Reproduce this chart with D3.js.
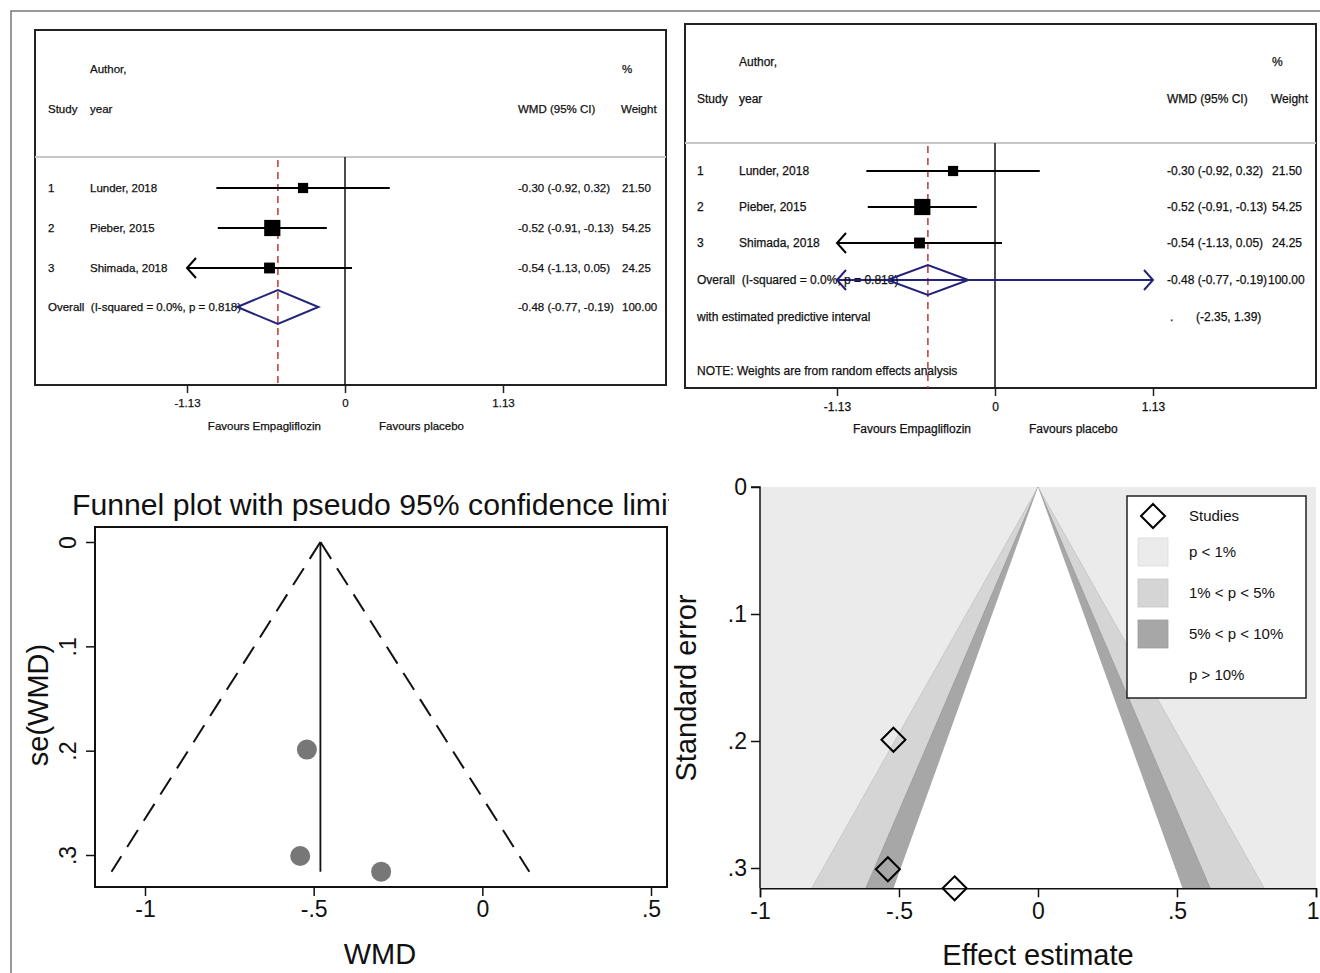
<!DOCTYPE html>
<html>
<head>
<meta charset="utf-8">
<script src="https://cdn.jsdelivr.net/npm/d3@7"></script>
<style>
  body { margin: 0; background: #fff; }
  text { font-family: "Liberation Sans", Arial, sans-serif; fill: #111; }
  .ft { stroke: #111; stroke-width: 0.25px; white-space: pre; }
</style>
</head>
<body>
<script>
// ---- data ----
var studyIds = ["1", "2", "3"];
var studyNames = ["Lunder, 2018", "Pieber, 2015", "Shimada, 2018"];
var wmd = [-0.30, -0.52, -0.54];
var ciLow = [-0.92, -0.91, -1.13];
var ciHigh = [0.32, -0.13, 0.05];
var weights = ["21.50", "54.25", "24.25"];
var ciLabels = ["-0.30 (-0.92, 0.32)", "-0.52 (-0.91, -0.13)", "-0.54 (-1.13, 0.05)"];
var overallEst = -0.48;
var overallCi = [-0.77, -0.19];
var overallLabel = "-0.48 (-0.77, -0.19)";
var predInterval = [-2.35, 1.39];
var forestTicks = [-1.13, 0, 1.13];
var se = [0.316, 0.199, 0.301];
var funnelXTicks = [-1, -0.5, 0, 0.5];
var funnelYTicks = [0, 0.1, 0.2, 0.3];
var contourXTicks = [-1, -0.5, 0, 0.5, 1];
var contourYTicks = [0, 0.1, 0.2, 0.3];
var contourZ = [2.576, 1.96, 1.645];
var contourColors = ["#d5d5d5", "#a7a7a7", "#ffffff"];
var legendLabels = ["p < 1%", "1% < p < 5%", "5% < p < 10%", "p > 10%"];
var legendColors = ["#ebebeb", "#d5d5d5", "#a7a7a7", "none"];

var W = 1320, H = 973;
var svg = d3.select("body").append("svg").attr("width", W).attr("height", H);

// outer figure border (only top and left visible)
svg.append("path").attr("d", "M11,973 L11,11 L1320,11")
  .attr("fill", "none").attr("stroke", "#777").attr("stroke-width", 1.5);

function stataFmt(d) {
  if (d === 0) return "0";
  return String(d).replace("0.", ".");
}

function arrowHead(g, x, y, dir, color) {
  // dir -1 pointing left, +1 pointing right
  g.append("path")
    .attr("d", "M" + (x - dir * 9) + "," + (y - 10) + " L" + x + "," + y + " L" + (x - dir * 9) + "," + (y + 10))
    .attr("fill", "none").attr("stroke", color).attr("stroke-width", 2);
}

// ---- forest plot ----
function forest(opt) {
  var g = svg.append("g");
  var x = d3.scaleLinear().domain([-1.13, 1.13]).range([opt.zero - 158, opt.zero + 158]);
  var fs = opt.fs;
  function txt(s, xx, yy, anchor) {
    return g.append("text").attr("class", "ft").attr("x", xx).attr("y", yy).attr("dy", "0.35em")
      .attr("text-anchor", anchor || "start").style("font-size", fs + "px").text(s);
  }

  g.append("rect").attr("x", opt.x0).attr("y", opt.y0)
    .attr("width", opt.x1 - opt.x0).attr("height", opt.y1 - opt.y0)
    .attr("fill", "none").attr("stroke", "#222").attr("stroke-width", 2);
  g.append("line").attr("x1", opt.x0).attr("x2", opt.x1)
    .attr("y1", opt.sep).attr("y2", opt.sep)
    .attr("stroke", "#c8c8c8").attr("stroke-width", 2);

  // header
  txt("Author,", opt.colName, opt.hy1);
  txt("%", opt.colW, opt.hy1);
  txt("Study", opt.colId, opt.hy2);
  txt("year", opt.colName, opt.hy2);
  txt("WMD (95% CI)", opt.colCi, opt.hy2);
  txt("Weight", opt.colW - 1, opt.hy2);

  // zero line and overall dashed line
  g.append("line").attr("x1", x(0)).attr("x2", x(0))
    .attr("y1", opt.sep).attr("y2", opt.y1).attr("stroke", "#111").attr("stroke-width", 1.5);
  g.append("line").attr("x1", x(overallEst)).attr("x2", x(overallEst))
    .attr("y1", opt.sep + 3).attr("y2", opt.y1)
    .attr("stroke", "#b83a3a").attr("stroke-width", 1.5).attr("stroke-dasharray", "7,5");

  studyNames.forEach(function(n, i) {
    var y = opt.rows[i];
    var lo = Math.max(ciLow[i], -1.13);
    g.append("line").attr("x1", x(lo)).attr("x2", x(ciHigh[i]))
      .attr("y1", y).attr("y2", y).attr("stroke", "#000").attr("stroke-width", 2);
    if (ciLow[i] <= -1.13) arrowHead(g, x(-1.13), y, -1, "#000");
    var s = 2.2 * Math.sqrt(+weights[i]);
    g.append("rect").attr("x", x(wmd[i]) - s / 2).attr("y", y - s / 2)
      .attr("width", s).attr("height", s).attr("fill", "#000");
    txt(studyIds[i], opt.colId, y);
    txt(n, opt.colName, y);
    txt(ciLabels[i], opt.colCi, y);
    txt(weights[i], opt.colW, y);
  });

  var oy = opt.rows[3];
  if (opt.pred) {
    var plo = Math.max(predInterval[0], -1.13), phi = Math.min(predInterval[1], 1.13);
    g.append("line").attr("x1", x(plo)).attr("x2", x(phi)).attr("y1", oy).attr("y2", oy)
      .attr("stroke", "#23237a").attr("stroke-width", 2);
    arrowHead(g, x(plo), oy, -1, "#23237a");
    arrowHead(g, x(phi), oy, 1, "#23237a");
  }
  txt("Overall  (I-squared = 0.0%, p = 0.818)", opt.colId, oy);
  g.append("path")
    .attr("d", "M" + x(overallCi[0]) + "," + oy + " L" + x(overallEst) + "," + (oy - opt.dh) +
      " L" + x(overallCi[1]) + "," + oy + " L" + x(overallEst) + "," + (oy + opt.dh) + "Z")
    .attr("fill", "none").attr("stroke", "#23237a").attr("stroke-width", 2);
  txt(overallLabel, opt.colCi, oy);
  txt("100.00", opt.colW + (opt.pred ? -4 : 0), oy);

  if (opt.pred) {
    txt("with estimated predictive interval", opt.colId, opt.rows[4]);
    txt(".", opt.colCi + 3, opt.rows[4]);
    txt("(" + predInterval[0].toFixed(2) + ", " + predInterval[1].toFixed(2) + ")", opt.colCi + 29, opt.rows[4]);
    txt("NOTE: Weights are from random effects analysis", opt.colId, opt.rows[5]);
  }

  // axis
  var ax = g.append("g").attr("transform", "translate(0," + opt.y1 + ")")
    .call(d3.axisBottom(x).tickValues(forestTicks).tickSize(8).tickPadding(6)
      .tickFormat(function(d) { return d === 0 ? "0" : d.toFixed(2); }));
  ax.select(".domain").remove();
  ax.selectAll("line").attr("stroke", "#222").attr("stroke-width", 1.5);
  ax.selectAll("text").attr("class", "ft").style("font-size", fs + "px").style("fill", "#111");

  g.append("text").attr("class", "ft").attr("x", x(0) - 24).attr("y", opt.y1 + 45).attr("text-anchor", "end")
    .style("font-size", fs + "px").text("Favours Empagliflozin");
  g.append("text").attr("class", "ft").attr("x", x(0) + 34).attr("y", opt.y1 + 45)
    .style("font-size", fs + "px").text("Favours placebo");
}

forest({
  x0: 35, x1: 666, y0: 30, y1: 385, sep: 157, zero: 345, fs: 11.5,
  hy1: 69, hy2: 109, colId: 48, colName: 90, colCi: 518, colW: 622,
  rows: [188, 228, 268, 307], dh: 17, pred: false
});
forest({
  x0: 685, x1: 1316, y0: 24, y1: 388, sep: 143, zero: 995, fs: 12,
  hy1: 62, hy2: 99, colId: 697, colName: 739, colCi: 1167, colW: 1272,
  rows: [171, 207, 243, 280, 317, 371], dh: 15, pred: true
});

// ---- funnel plot (bottom left) ----
(function() {
  var g = svg.append("g");
  var x = d3.scaleLinear().domain([-1, 0.5]).range([145, 651]);
  var y = d3.scaleLinear().domain([0, 0.3]).range([542, 855]);
  var seMax = d3.max(se);

  svg.append("clipPath").attr("id", "titleclip").append("rect")
    .attr("x", 0).attr("y", 470).attr("width", 669).attr("height", 60);
  g.append("text").attr("x", 72).attr("y", 515).attr("clip-path", "url(#titleclip)")
    .style("font-size", "30.2px").text("Funnel plot with pseudo 95% confidence limits");

  g.append("rect").attr("x", 95).attr("y", 527).attr("width", 572).attr("height", 360)
    .attr("fill", "none").attr("stroke", "#111").attr("stroke-width", 2);

  var xa = g.append("g").attr("transform", "translate(0,887)")
    .call(d3.axisBottom(x).tickValues(funnelXTicks).tickSize(9).tickPadding(5).tickFormat(stataFmt));
  xa.select(".domain").remove();
  xa.selectAll("line").attr("stroke", "#111").attr("stroke-width", 1.5);
  xa.selectAll("text").style("font-size", "23px").style("fill", "#111");

  var ya = g.append("g").attr("transform", "translate(95,0)")
    .call(d3.axisLeft(y).tickValues(funnelYTicks).tickSize(9).tickFormat(stataFmt));
  ya.select(".domain").remove();
  ya.selectAll("line").attr("stroke", "#111").attr("stroke-width", 1.5);
  ya.selectAll("text").style("font-size", "23px").style("fill", "#111")
    .attr("x", 0).attr("dy", 0).attr("text-anchor", "middle")
    .attr("transform", "translate(-19,0) rotate(-90)");

  g.append("text").attr("x", 380).attr("y", 964).attr("text-anchor", "middle")
    .style("font-size", "29px").text("WMD");
  g.append("text").attr("transform", "translate(48,705) rotate(-90)").attr("text-anchor", "middle")
    .style("font-size", "29px").text("se(WMD)");

  // pseudo 95% limits, each side drawn from the apex so the dashes meet there
  var line = d3.line().x(function(d) { return x(d[0]); }).y(function(d) { return y(d[1]); });
  [-1, 1].forEach(function(s) {
    g.append("path").attr("d", line([[overallEst, 0], [overallEst + s * 1.96 * seMax, seMax]]))
      .attr("fill", "none").attr("stroke", "#111").attr("stroke-width", 2).attr("stroke-dasharray", "20,11");
  });
  g.append("path").attr("d", line([[overallEst, 0], [overallEst, seMax]]))
    .attr("fill", "none").attr("stroke", "#111").attr("stroke-width", 1.8);

  g.selectAll(".pt").data(wmd).join("circle")
    .attr("cx", function(d) { return x(d); })
    .attr("cy", function(d, i) { return y(se[i]); })
    .attr("r", 10).attr("fill", "#777");
})();

// ---- contour-enhanced funnel plot (bottom right) ----
(function() {
  var g = svg.append("g");
  var x = d3.scaleLinear().domain([-1, 1]).range([760, 1316]);
  var seMax = d3.max(se);
  var y = d3.scaleLinear().domain([0, 0.3]).range([487, 868]);

  g.append("rect").attr("x", x(-1)).attr("y", y(0)).attr("width", x(1) - x(-1))
    .attr("height", y(seMax) - y(0)).attr("fill", "#ebebeb");

  contourZ.forEach(function(z, i) {
    var pts = [[-z * seMax, seMax], [0, 0], [z * seMax, seMax]];
    g.append("path")
      .attr("d", d3.line().x(function(d) { return x(d[0]); }).y(function(d) { return y(d[1]); })(pts) + "Z")
      .attr("fill", contourColors[i]).attr("stroke", i === 2 ? "none" : d3.color(contourColors[i]).darker(0.25))
      .attr("stroke-width", 0.8);
  });

  var xa = g.append("g").attr("transform", "translate(0," + y(seMax) + ")")
    .call(d3.axisBottom(x).tickValues(contourXTicks).tickSize(9).tickPadding(5).tickFormat(stataFmt));
  xa.select(".domain").attr("stroke", "#111").attr("stroke-width", 1.5);
  xa.selectAll("line").attr("stroke", "#111").attr("stroke-width", 1.5);
  xa.selectAll("text").style("font-size", "23px").style("fill", "#111");
  xa.selectAll("text").filter(function(d) { return d === 1; })
    .attr("text-anchor", "end").attr("x", 3);

  var ya = g.append("g").attr("transform", "translate(760,0)")
    .call(d3.axisLeft(y).tickValues(contourYTicks).tickSize(9).tickPadding(4).tickFormat(stataFmt));
  ya.select(".domain").attr("d", "M-9," + y(0) + "H0V" + y(seMax)).attr("stroke", "#111").attr("stroke-width", 1.5);
  ya.selectAll("line").attr("stroke", "#111").attr("stroke-width", 1.5);
  ya.selectAll("text").style("font-size", "23px").style("fill", "#111");

  g.append("text").attr("x", x(0)).attr("y", 965).attr("text-anchor", "middle")
    .style("font-size", "29px").text("Effect estimate");
  g.append("text").attr("transform", "translate(696,688) rotate(-90)").attr("text-anchor", "middle")
    .style("font-size", "29px").text("Standard error");

  g.selectAll(".dm").data(wmd).join("path")
    .attr("transform", function(d, i) { return "translate(" + x(d) + "," + y(se[i]) + ")"; })
    .attr("d", "M0,-12 L12,0 L0,12 L-12,0 Z")
    .attr("fill", "none").attr("stroke", "#000").attr("stroke-width", 2);

  // legend
  var lg = g.append("g");
  lg.append("rect").attr("x", 1127).attr("y", 496).attr("width", 179).attr("height", 202)
    .attr("fill", "#fff").attr("stroke", "#222").attr("stroke-width", 1.5);
  lg.append("path").attr("transform", "translate(1153,516)")
    .attr("d", "M0,-12 L12,0 L0,12 L-12,0 Z")
    .attr("fill", "none").attr("stroke", "#000").attr("stroke-width", 2);
  lg.append("text").attr("x", 1189).attr("y", 516).attr("dy", "0.35em")
    .style("font-size", "15px").text("Studies");
  legendLabels.forEach(function(l, i) {
    var yy = 552 + i * 41;
    if (legendColors[i] !== "none") {
      lg.append("rect").attr("x", 1138).attr("y", yy - 14).attr("width", 30).attr("height", 28)
        .attr("fill", legendColors[i]).attr("stroke", d3.color(legendColors[i]).darker(0.2)).attr("stroke-width", 0.8);
    }
    lg.append("text").attr("x", 1189).attr("y", yy).attr("dy", "0.35em")
      .style("font-size", "15px").text(l);
  });
})();
</script>
</body>
</html>
